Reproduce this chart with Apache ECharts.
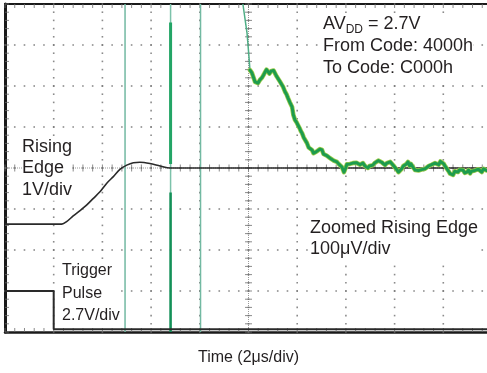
<!DOCTYPE html>
<html><head><meta charset="utf-8">
<script src="https://cdn.jsdelivr.net/npm/echarts@6/dist/echarts.min.js"></script>
<style>html,body{margin:0;padding:0;background:#fff;}#c{width:487px;height:373px;}</style>
</head><body><div id="c"></div>
<script>
const FONT = '"Liberation Sans", Arial, Helvetica, sans-serif';
const TEXT = '#231f20';

// Time in µs relative to screen centre (2 µs/div, 10 div); amplitude in screen divisions (8 div)
const timeRange = [-10, 10];
const divRange = [-4, 4];
const majorStepX = 2, majorStepY = 1, minorPerMajor = 5;

// Trigger pulse (2.7V/div)
const triggerPulse = [[-10, -3.0], [-8.0, -3.0], [-8.0, -3.93], [10, -3.93]];

// Rising edge (1V/div)
const risingEdge = [
  [-10, -1.37], [-7.67, -1.37], [-7.47, -1.31], [-7.20, -1.17], [-6.92, -1.04],
  [-6.64, -0.90], [-6.37, -0.74], [-6.10, -0.58], [-5.82, -0.37], [-5.55, -0.21],
  [-5.27, -0.03], [-5.00, 0.07], [-4.73, 0.13], [-4.46, 0.14], [-4.05, 0.11],
  [-3.63, 0.05], [-3.22, 0.0], [10, 0.0]
];

// Saturated (off-screen) transitions of the zoomed trace
const saturationThin = [-5.07, -1.97];
const saturationThick = -3.20;
const thickSegmentsTop = [3.55, 0.10];
const thickSegmentsBottom = [-0.60, -4.0];

// Zoomed rising edge (100µV/div)
const zoomedSlew = [[-0.23, 4.0], [-0.06, 3.29], [0.02, 2.71], [0.06, 2.39]];
const zoomedSettling = [
  [0.06,2.39],[0.10,2.36],[0.14,2.32],[0.20,2.22],[0.27,2.10],[0.33,2.12],[0.39,2.07],[0.47,2.15],
  [0.55,2.20],[0.62,2.27],[0.68,2.34],[0.74,2.40],[0.80,2.39],[0.86,2.30],[0.92,2.36],[0.97,2.32],
  [1.03,2.38],[1.09,2.34],[1.15,2.24],[1.21,2.20],[1.30,2.10],[1.36,2.06],[1.42,1.98],[1.50,1.86],
  [1.56,1.80],[1.62,1.71],[1.70,1.60],[1.79,1.49],[1.84,1.30],[1.91,1.17],[1.97,1.12],[2.03,1.05],
  [2.10,0.97],[2.15,0.90],[2.20,0.85],[2.27,0.74],[2.33,0.70],[2.40,0.61],[2.47,0.50],[2.53,0.52],
  [2.61,0.44],[2.67,0.36],[2.73,0.32],[2.79,0.40],[2.85,0.39],[2.93,0.46],[3.02,0.44],[3.08,0.34],
  [3.14,0.37],[3.22,0.30],[3.28,0.29],[3.35,0.24],[3.42,0.26],[3.50,0.18],[3.57,0.20],[3.63,0.15],
  [3.70,0.10],[3.77,0.08],[3.84,0.02],[3.92,-0.10],[3.99,0.00],[4.04,0.09],[4.09,0.07],[4.17,0.10],
  [4.23,0.08],[4.29,0.12],[4.37,0.09],[4.43,0.13],[4.50,0.10],[4.58,0.08],[4.63,0.12],[4.70,0.12],
  [4.78,0.05],[4.84,0.08],[4.91,0.00],[4.97,0.05],[5.05,0.03],[5.11,0.07],[5.18,0.12],[5.26,0.15],
  [5.33,0.18],[5.40,0.20],[5.47,0.14],[5.54,0.10],[5.61,0.07],[5.68,0.12],[5.75,0.10],[5.82,0.15],
  [5.89,0.12],[5.95,0.06],[6.02,0.02],[6.10,-0.05],[6.16,-0.10],[6.22,-0.12],[6.29,-0.02],[6.36,0.05],
  [6.43,0.02],[6.49,0.10],[6.55,0.15],[6.62,0.05],[6.67,0.10],[6.71,0.07],[6.78,0.00],[6.84,-0.05],
  [6.91,-0.08],[6.98,-0.06],[7.04,-0.10],[7.11,-0.04],[7.18,-0.08],[7.25,-0.02],[7.33,0.00],[7.40,0.05],
  [7.47,0.03],[7.52,0.08],[7.58,0.07],[7.66,0.12],[7.74,0.12],[7.81,0.08],[7.88,0.16],[7.95,0.15],
  [8.02,0.10],[8.08,0.04],[8.15,0.02],[8.22,-0.08],[8.28,-0.14],[8.34,-0.12],[8.40,-0.17],[8.47,-0.08],
  [8.53,-0.12],[8.60,-0.10],[8.67,-0.04],[8.74,-0.08],[8.81,-0.05],[8.88,-0.12],[8.97,-0.10],[9.04,-0.05],
  [9.10,-0.13],[9.16,-0.08],[9.22,-0.12],[9.30,-0.06],[9.37,-0.10],[9.44,-0.03],[9.51,-0.05],[9.58,-0.10],
  [9.65,-0.02],[9.71,0.00],[9.78,-0.06],[9.85,-0.02],[9.92,-0.05],[10.0,-0.03]
];

const xName = 'Time (2μs/div)';
const labelRising = ['Rising', 'Edge', '1V/div'];
const labelTrigger = ['Trigger', 'Pulse', '2.7V/div'];
const labelConditionsMain = ['From Code: 4000h', 'To Code: C000h'];
const labelZoomed = ['Zoomed Rising Edge', '100μV/div'];

// ---- graticule positions derived from the division structure ----
function steps(a, b, step) {
  const out = [], n = Math.round((b - a) / step);
  for (let i = 0; i <= n; i++) out.push(+(a + i * step).toFixed(4));
  return out;
}
const majorX = steps(timeRange[0], timeRange[1], majorStepX);
const majorY = steps(divRange[0], divRange[1], majorStepY);
const minorX = steps(timeRange[0], timeRange[1], majorStepX / minorPerMajor);
const minorY = steps(divRange[0], divRange[1], majorStepY / minorPerMajor);
const innerX = majorX.slice(1, -1), innerY = majorY.slice(1, -1);

const graticuleDots = [];
innerY.forEach(y => minorX.forEach(x => graticuleDots.push([x, y])));
innerX.forEach(x => minorY.forEach(y => graticuleDots.push([x, y])));
const centreTicksH = minorX.map(x => [x, 0]);
const centreTicksV = minorY.map(y => [0, y]);
const topTicks = minorX.map(x => [x, divRange[1]]);
const bottomTicks = minorX.map(x => [x, divRange[0]]);
const leftTicks = minorY.map(y => [timeRange[0], y]);

const GRAY = '#6e6e6e';

function border(pos, width) {
  return {
    type: 'value', min: timeRange[0], max: timeRange[1], interval: majorStepX, position: pos,
    axisLine: {show: true, onZero: false, lineStyle: {color: '#1a1a1a', width: width}},
    axisTick: {show: false}, minorTick: {show: false}, axisLabel: {show: false}, splitLine: {show: false}
  };
}

const base = {type: 'line', xAxisIndex: 0, yAxisIndex: 0, showSymbol: false, symbol: 'none', silent: true, animation: false};
const marks = {type: 'scatter', xAxisIndex: 0, yAxisIndex: 0, symbol: 'rect', silent: true, animation: false, clip: false,
  itemStyle: {color: GRAY}, emphasis: {disabled: true}};

const series = [
  Object.assign({}, marks, {data: graticuleDots, symbolSize: [1.6, 1.6], z: 1}),
  Object.assign({}, base, {data: [[timeRange[0], 0], [timeRange[1], 0]], z: 1, lineStyle: {color: '#9a9a9a', width: 1, type: [1, 1]}}),
  Object.assign({}, base, {data: [[0, divRange[0]], [0, divRange[1]]], z: 1, lineStyle: {color: '#9a9a9a', width: 1, type: [1, 1]}}),
  Object.assign({}, marks, {data: centreTicksH, symbolSize: [1, 7], z: 1}),
  Object.assign({}, marks, {data: centreTicksV, symbolSize: [7, 1], z: 1}),
  Object.assign({}, marks, {data: topTicks, symbolSize: [1, 4], symbolOffset: [0, 2], z: 1}),
  Object.assign({}, marks, {data: bottomTicks, symbolSize: [1, 4], symbolOffset: [0, -2], z: 1}),
  Object.assign({}, marks, {data: leftTicks, symbolSize: [4, 1], symbolOffset: [2, 0], z: 1})
];

saturationThin.forEach(t => series.push(Object.assign({}, base, {
  data: [[t, divRange[0]], [t, divRange[1]]], z: 3,
  lineStyle: {color: '#72b9a2', width: 1.5}
})));
series.push(Object.assign({}, base, {
  data: [[saturationThick, divRange[0]], [saturationThick, divRange[1]]], z: 3,
  lineStyle: {color: '#7cc2aa', width: 1.5}
}));
series.push(Object.assign({}, base, {
  data: thickSegmentsTop.map(v => [saturationThick, v]), z: 4,
  lineStyle: {color: '#23a566', width: 3}
}));
series.push(Object.assign({}, base, {
  data: thickSegmentsBottom.map(v => [saturationThick, v]), z: 4,
  lineStyle: {color: '#139058', width: 2.5}
}));
series.push(Object.assign({}, base, {
  data: triggerPulse, z: 5, lineStyle: {color: '#2a2a2a', width: 2}
}));
series.push(Object.assign({}, base, {
  data: risingEdge, z: 5, smooth: 0.3, lineStyle: {color: '#2a2a2a', width: 1.6}
}));
series.push(Object.assign({}, base, {
  data: zoomedSlew, z: 6, lineStyle: {color: '#4fae86', width: 1.5}
}));
series.push(Object.assign({}, base, {
  data: zoomedSettling, z: 6, lineStyle: {color: '#9ccb4a', width: 4.5, join: 'round', cap: 'round'}
}));
series.push(Object.assign({}, base, {
  data: zoomedSettling, z: 7, lineStyle: {color: '#1d9c4e', width: 3, join: 'round', cap: 'round'}
}));

function block(lines, x, yCenterFirst, size, lh) {
  return {
    type: 'text', x: x, y: yCenterFirst - lh / 2, z: 100,
    style: {
      text: lines.join('\n'), fontFamily: FONT, fontSize: size, lineHeight: lh,
      fill: TEXT, align: 'left', verticalAlign: 'top', backgroundColor: '#fff'
    }
  };
}
const graphic = [
  block(labelRising, 22, 147, 18, 21.5),
  block(labelTrigger, 62, 271, 16, 22.5),
  block(labelZoomed, 310, 228, 18, 21.5),
  {
    type: 'text', x: 323, y: 24.5 - 11, z: 100,
    style: {
      text: '{a|AV}{s|DD}{a| = 2.7V}\n{a|' + labelConditionsMain[0] + '}\n{a|' + labelConditionsMain[1] + '}',
      fontFamily: FONT, fontSize: 18, lineHeight: 22, fill: TEXT, backgroundColor: '#fff',
      verticalAlign: 'top', align: 'left',
      rich: {
        a: {fontFamily: FONT, fontSize: 18, lineHeight: 22, color: TEXT},
        s: {fontFamily: FONT, fontSize: 12, lineHeight: 22, color: TEXT, verticalAlign: 'bottom'}
      }
    }
  },
  {
    type: 'text', x: 248.5, y: 358, z: 100,
    style: {text: xName, fontFamily: FONT, fontSize: 16, fill: TEXT, align: 'center', verticalAlign: 'middle'}
  }
];

const chart = echarts.init(document.getElementById('c'));
chart.setOption({
  animation: false,
  backgroundColor: '#fff',
  grid: {left: 5, top: 4, right: -5, bottom: 41, containLabel: false, outerBoundsMode: 'none'},
  xAxis: [border('bottom', 2.5), border('top', 2)],
  yAxis: [{
    type: 'value', min: divRange[0], max: divRange[1], interval: majorStepY, position: 'left',
    axisLine: {show: true, onZero: false, lineStyle: {color: '#1a1a1a', width: 3}},
    axisTick: {show: false}, minorTick: {show: false}, axisLabel: {show: false}, splitLine: {show: false}
  }],
  series: series,
  graphic: graphic
});
</script></body></html>
